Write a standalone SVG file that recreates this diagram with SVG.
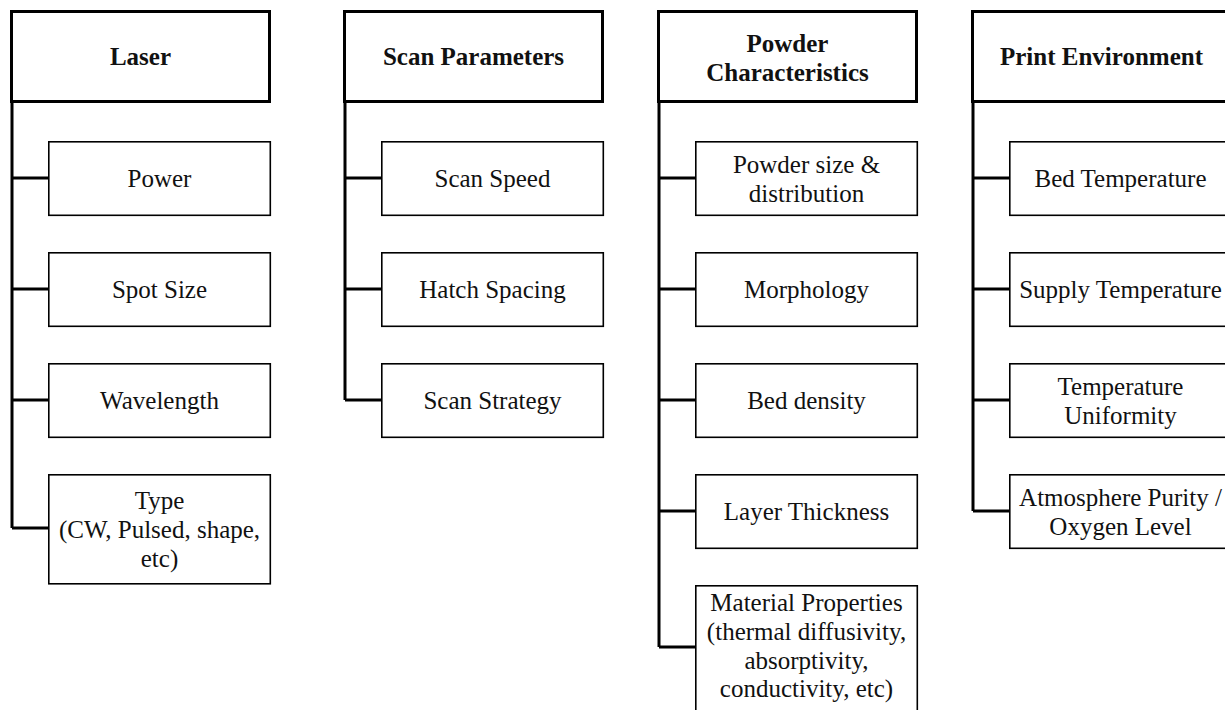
<svg xmlns="http://www.w3.org/2000/svg" width="1225" height="710" viewBox="0 0 1225 710">
<style>
.hdr{fill:#fff;stroke:#000;stroke-width:3}
.box{fill:#fff;stroke:#000;stroke-width:1.6}
.conn{fill:none;stroke:#000;stroke-width:3;stroke-linejoin:miter}
text{font-family:'Liberation Serif', serif;font-size:25px;fill:#111;text-anchor:middle}
.b{font-weight:bold}
</style>
<rect width="1225" height="710" fill="#fff"/>
<g id="connectors">
<path class="conn" d="M12,102 V528 M12,178 H49 M12,289 H49 M12,400 H49 M12,528 H49"/>
<path class="conn" d="M345,102 V400 M345,178 H382 M345,289 H382 M345,400 H382"/>
<path class="conn" d="M659,102 V647 M659,178 H695 M659,289 H695 M659,400 H695 M659,511 H695 M659,647 H695"/>
<path class="conn" d="M973,102 V511 M973,178 H1009 M973,289 H1009 M973,400 H1009 M973,511 H1009"/>
</g>
<g id="laser">
<rect class="hdr" x="11.5" y="11.5" width="258" height="90"/>
<text class="b" x="140.5" y="65">Laser</text>
</g>
<g id="power"><rect class="box" x="48.8" y="141.8" width="221.5" height="73.5"/><text x="159.5" y="187">Power</text></g>
<g id="spot-size"><rect class="box" x="48.8" y="252.8" width="221.5" height="73.5"/><text x="159.5" y="298">Spot Size</text></g>
<g id="wavelength"><rect class="box" x="48.8" y="363.8" width="221.5" height="73.5"/><text x="159.5" y="409">Wavelength</text></g>
<g id="type"><rect class="box" x="48.8" y="474.8" width="221.5" height="109"/><text x="159.5" y="508.5">Type</text><text x="159.5" y="537.5">(CW, Pulsed, shape,</text><text x="159.5" y="566.5">etc)</text></g>

<g id="scan-parameters">
<rect class="hdr" x="344.5" y="11.5" width="258" height="90"/>
<text class="b" x="473.5" y="65">Scan Parameters</text>
</g>
<g id="scan-speed"><rect class="box" x="381.8" y="141.8" width="221.5" height="73.5"/><text x="492.5" y="187">Scan Speed</text></g>
<g id="hatch-spacing"><rect class="box" x="381.8" y="252.8" width="221.5" height="73.5"/><text x="492.5" y="298">Hatch Spacing</text></g>
<g id="scan-strategy"><rect class="box" x="381.8" y="363.8" width="221.5" height="73.5"/><text x="492.5" y="409">Scan Strategy</text></g>

<g id="powder-characteristics">
<rect class="hdr" x="658.5" y="11.5" width="258" height="90"/>
<text class="b" x="787.5" y="51.5">Powder</text>
<text class="b" x="787.5" y="80.5">Characteristics</text>
</g>
<g id="powder-size"><rect class="box" x="695.8" y="141.8" width="221.5" height="73.5"/><text x="806.5" y="172.5">Powder size &amp;</text><text x="806.5" y="201.5">distribution</text></g>
<g id="morphology"><rect class="box" x="695.8" y="252.8" width="221.5" height="73.5"/><text x="806.5" y="298">Morphology</text></g>
<g id="bed-density"><rect class="box" x="695.8" y="363.8" width="221.5" height="73.5"/><text x="806.5" y="409">Bed density</text></g>
<g id="layer-thickness"><rect class="box" x="695.8" y="474.8" width="221.5" height="73.5"/><text x="806.5" y="520">Layer Thickness</text></g>
<g id="material-properties"><rect class="box" x="695.8" y="585.8" width="221.5" height="140"/><text x="806.5" y="611">Material Properties</text><text x="806.5" y="640">(thermal diffusivity,</text><text x="806.5" y="668.5">absorptivity,</text><text x="806.5" y="697">conductivity, etc)</text></g>

<g id="print-environment">
<rect class="hdr" x="972.5" y="11.5" width="258" height="90"/>
<text class="b" x="1101.5" y="65">Print Environment</text>
</g>
<g id="bed-temperature"><rect class="box" x="1009.8" y="141.8" width="221.5" height="73.5"/><text x="1120.5" y="187">Bed Temperature</text></g>
<g id="supply-temperature"><rect class="box" x="1009.8" y="252.8" width="221.5" height="73.5"/><text x="1120.5" y="298">Supply Temperature</text></g>
<g id="temperature-uniformity"><rect class="box" x="1009.8" y="363.8" width="221.5" height="73.5"/><text x="1120.5" y="394.5">Temperature</text><text x="1120.5" y="423.5">Uniformity</text></g>
<g id="atmosphere-purity"><rect class="box" x="1009.8" y="474.8" width="221.5" height="73.5"/><text x="1120.5" y="505.5">Atmosphere Purity /</text><text x="1120.5" y="534.5">Oxygen Level</text></g>
</svg>
